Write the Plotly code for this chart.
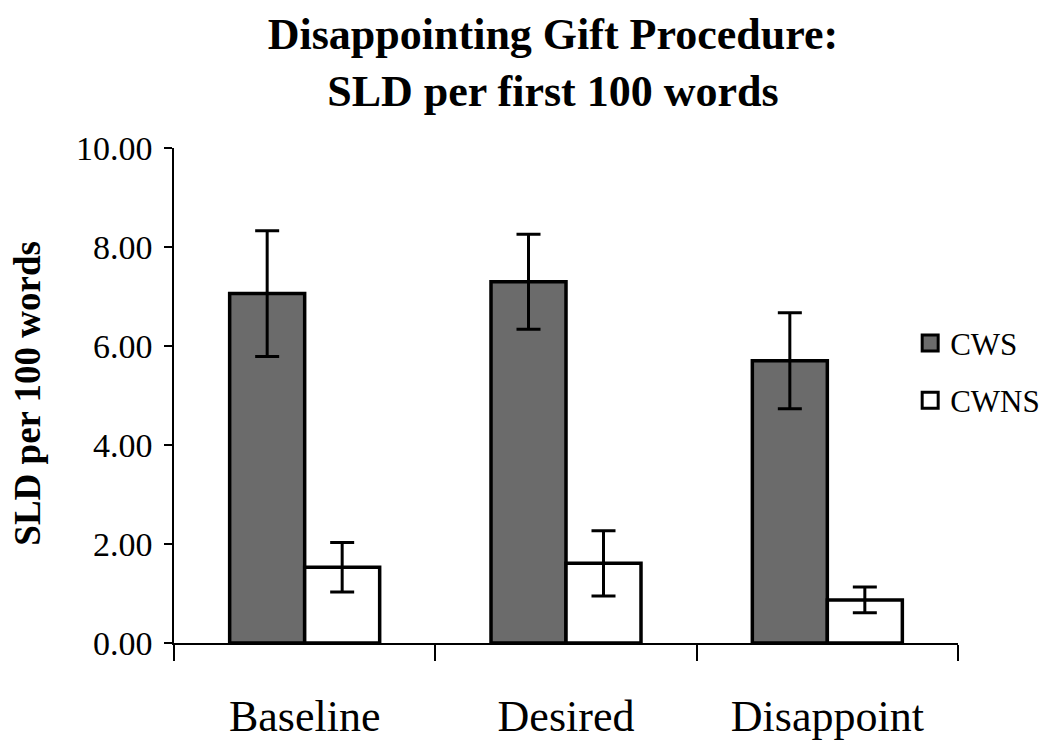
import plotly.graph_objects as go

categories = ["Baseline", "Desired", "Disappoint"]
cws_values = [7.06, 7.30, 5.70]
cws_errors = [1.27, 0.96, 0.97]
cwns_values = [1.53, 1.61, 0.87]
cwns_errors = [0.50, 0.66, 0.26]
y_ticks = [0, 2, 4, 6, 8, 10]

FONT = "Liberation Serif"
GRAY = "#6b6b6b"

fig = go.Figure()
fig.add_trace(go.Bar(
    x=categories, y=cws_values, name="CWS", showlegend=False,
    marker=dict(color=GRAY, line=dict(color="black", width=3.5)),
    error_y=dict(type="data", array=cws_errors, visible=True,
                 color="black", thickness=3, width=12),
))
fig.add_trace(go.Bar(
    x=categories, y=cwns_values, name="CWNS", showlegend=False,
    marker=dict(color="white", line=dict(color="black", width=3.5)),
    error_y=dict(type="data", array=cwns_errors, visible=True,
                 color="black", thickness=3, width=12),
))
# legend entries
fig.add_trace(go.Scatter(
    x=[None], y=[None], mode="markers", name="CWS", legendgroup="a",
    marker=dict(symbol="square", size=16, color=GRAY,
                line=dict(color="black", width=3)),
))
fig.add_trace(go.Scatter(
    x=[None], y=[None], mode="markers", name="CWNS", legendgroup="b",
    marker=dict(symbol="square", size=16, color="white",
                line=dict(color="black", width=3)),
))

fig.update_layout(
    width=1050, height=741,
    paper_bgcolor="white", plot_bgcolor="white",
    margin=dict(l=166, r=100, t=140, b=106, autoexpand=False),
    barmode="group", bargap=0.426, bargroupgap=0,
    font=dict(family=FONT, color="black"),
    title=dict(
        text="<b>Disappointing Gift Procedure:<br>SLD per first 100 words</b>",
        font=dict(family=FONT, size=44, color="black"),
        x=0.519, xanchor="center", y=0.945, yanchor="top",
    ),
    legend=dict(
        x=0.939, xanchor="left", y=0.66, yanchor="top",
        font=dict(family=FONT, size=31, color="black"),
        traceorder="grouped", tracegroupgap=14,
        bgcolor="rgba(0,0,0,0)",
    ),
    annotations=[dict(
        text="<b>SLD per 100 words</b>", textangle=-90,
        xref="paper", yref="paper", x=-0.188, y=0.505,
        xanchor="center", yanchor="middle", showarrow=False,
        font=dict(family=FONT, size=37, color="black"),
    )],
)
fig.update_xaxes(
    type="category", showline=True, linecolor="black", linewidth=1.5,
    ticks="outside", tickson="boundaries", ticklen=16, tickwidth=1.5,
    tickcolor="black", tickfont=dict(family=FONT, size=44, color="black"),
    ticklabelstandoff=33, showgrid=False, zeroline=False,
)
fig.update_yaxes(
    range=[0, 10], tickvals=y_ticks, tickformat=".2f",
    showline=True, linecolor="black", linewidth=1.5,
    ticks="outside", ticklen=8, tickwidth=1.5, tickcolor="black",
    tickfont=dict(family=FONT, size=34, color="black"),
    ticklabelstandoff=5, showgrid=False, zeroline=False,
)

fig.write_html("out.html")
